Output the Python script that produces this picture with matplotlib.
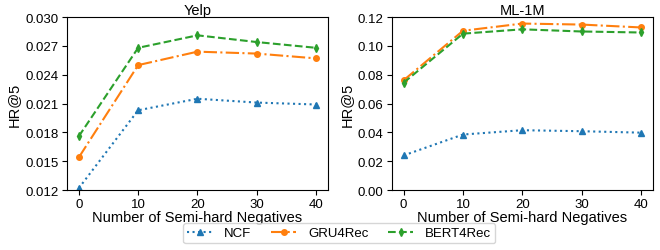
import matplotlib
matplotlib.use("Agg")
import matplotlib.pyplot as plt

plt.rcParams["font.family"] = ["Liberation Sans", "DejaVu Sans"]

x = [0, 10, 20, 30, 40]

# Yelp
yelp_ncf = [0.0122, 0.0203, 0.0215, 0.0211, 0.0209]
yelp_gru = [0.0154, 0.0250, 0.0264, 0.0262, 0.0257]
yelp_bert = [0.0176, 0.0268, 0.0281, 0.0274, 0.0268]

# ML-1M
ml_ncf = [0.0240, 0.0385, 0.0415, 0.0408, 0.0398]
ml_gru = [0.0762, 0.1105, 0.1155, 0.1148, 0.1128]
ml_bert = [0.0745, 0.1085, 0.1115, 0.1100, 0.1093]

yelp_ticks = [0.012, 0.015, 0.018, 0.021, 0.024, 0.027, 0.030]
ml_ticks = [0.00, 0.02, 0.04, 0.06, 0.08, 0.10, 0.12]

fig, axes = plt.subplots(1, 2, figsize=(6.6, 2.51), dpi=100)

panels = [
    (axes[0], "Yelp", yelp_ncf, yelp_gru, yelp_bert, yelp_ticks, "{:.3f}"),
    (axes[1], "ML-1M", ml_ncf, ml_gru, ml_bert, ml_ticks, "{:.2f}"),
]

for ax, title, ncf, gru, bert, ticks, fmt in panels:
    ax.plot(x, ncf, linestyle=":", marker="^", color="tab:blue", markersize=4, label="NCF")
    ax.plot(x, gru, linestyle="-.", marker="o", color="tab:orange", markersize=4, label="GRU4Rec")
    ax.plot(x, bert, linestyle="--", marker="d", color="tab:green", markersize=4, label="BERT4Rec")
    ax.set_title(title, fontsize=10.5, pad=2)
    ax.set_xlabel("Number of Semi-hard Negatives", fontsize=10.5, labelpad=0)
    ax.set_ylabel("HR@5", fontsize=10.5, labelpad=3)
    ax.set_xticks(x)
    ax.set_yticks(ticks)
    ax.set_yticklabels([fmt.format(t) for t in ticks])
    ax.set_ylim(ticks[0], ticks[-1])
    ax.tick_params(labelsize=9.5, pad=2.5)

handles, labels = axes[0].get_legend_handles_labels()
fig.legend(handles, labels, loc="lower center", ncol=3, fontsize=9.5,
           bbox_to_anchor=(0.514, 0.0), columnspacing=1.5, handlelength=1.9,
           borderpad=0.3, handletextpad=0.9)

plt.subplots_adjust(left=0.1015, right=0.989, top=0.928, bottom=0.239, wspace=0.245)
plt.savefig("out.png")
